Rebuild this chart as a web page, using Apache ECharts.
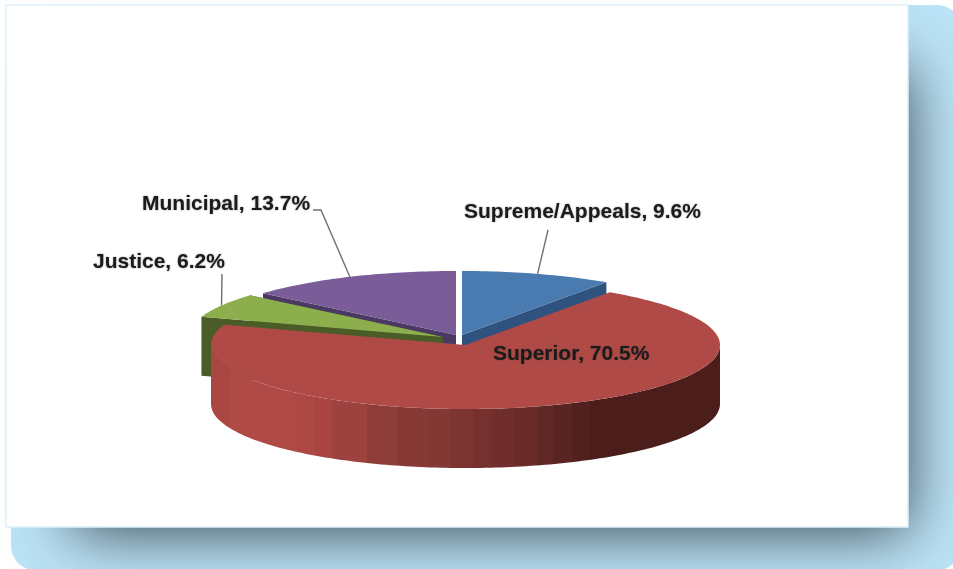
<!DOCTYPE html>
<html>
<head>
<meta charset="utf-8">
<style>html,body{margin:0;padding:0;background:#fff}#c{width:953px;height:569px;filter:blur(0.45px)}</style>
<script src="https://cdn.jsdelivr.net/npm/echarts@6/dist/echarts.min.js"></script>
</head>
<body>
<div id="c"></div>
<script>
// Data, clockwise from 12 o'clock
var categories = ['Supreme/Appeals', 'Superior', 'Justice', 'Municipal'];
var shares = [9.6, 70.5, 6.2, 13.7];

// Styles
var topColors = ['#4A7BB0', '#B04A46', '#8DAE4C', '#7A5C98'];
var wallColors = ['#2F527E', '#4B1E1C', '#4A5C28', '#4A3A63'];
var wallBandEdges = [211, 230, 297, 315, 332, 367, 397, 428, 450, 473, 492, 515, 537, 553, 572, 590, 720];
var wallBandColors = ['#AB4743', '#AF4A46', '#AD4844', '#A84541', '#9D423E', '#8F3D39', '#863935', '#823833', '#7C3531', '#76312E', '#6F2D2B', '#682B28', '#5F2825', '#582522', '#52211F', '#4B1E1C'];

// Layout of each exploded slice on the page
var sliceLayout = [
  {cx: 462, cy: 335, order: 1},
  {cx: 465.5, cy: 345, order: 4},
  {cx: 443, cy: 337, order: 3},
  {cx: 456, cy: 335, order: 2}
];
var radiusX = 254.5, radiusY = 64, depth = 59;
var labelLayout = [
  {x: 464, y: 212, line: [[548, 230]]},
  {x: 493, y: 354, line: null},
  {x: 93, y: 262, line: [[222, 274]]},
  {x: 142, y: 204, line: [[321, 210], [313, 210]]}
];

var startAngles = [];
shares.reduce(function (sum, v, i) { startAngles[i] = sum; return sum + v; }, 0);

function pointAt(l, t) {
  return [l.cx + radiusX * Math.sin(t), l.cy - radiusY * Math.cos(t)];
}
function arc(l, a0, a1) {
  var pts = [], n = Math.max(2, Math.ceil(Math.abs(a1 - a0) / 0.02));
  for (var k = 0; k <= n; k++) pts.push(pointAt(l, a0 + (a1 - a0) * k / n));
  return pts;
}
function down(p) { return [p[0], p[1] + depth]; }

function bandStops() {
  var stops = [], span = wallBandEdges[wallBandEdges.length - 1] - wallBandEdges[0];
  wallBandColors.forEach(function (c, i) {
    stops.push({offset: (wallBandEdges[i] - wallBandEdges[0]) / span, color: c});
    stops.push({offset: (wallBandEdges[i + 1] - wallBandEdges[0]) / span, color: c});
  });
  return stops;
}

function renderSlice(params, api) {
  var i = params.dataIndex;
  var value = api.value(0);
  var l = sliceLayout[i];
  var a0 = startAngles[i] / 100 * 2 * Math.PI;
  var a1 = a0 + value / 100 * 2 * Math.PI;
  var apex = [l.cx, l.cy];
  var rim = arc(l, a0, a1);
  var children = [];
  var isSuperior = value > 50;

  if (isSuperior) {
    // outer wall: only the front half of the rim faces the viewer
    var frontRim = arc(l, Math.max(a0, Math.PI / 2), Math.min(a1, Math.PI * 1.5));
    var front = frontRim.concat(frontRim.map(down).reverse());
    children.push({
      type: 'polygon', z2: l.order * 10,
      shape: {points: front},
      style: {fill: {type: 'linear', x: wallBandEdges[0], y: 0, x2: wallBandEdges[wallBandEdges.length - 1], y2: 0, global: true, colorStops: bandStops()}}
    });
  } else {
    // the cut faces that show below the top of the slice
    [rim[0], rim[rim.length - 1]].forEach(function (p) {
      children.push({
        type: 'polygon', z2: l.order * 10,
        shape: {points: [apex, p, down(p), down(apex)]},
        style: {fill: wallColors[i]}
      });
    });
  }
  children.push({
    type: 'polygon', z2: l.order * 10 + 1,
    shape: {points: [apex].concat(rim)},
    style: {fill: topColors[i]}
  });

  var lab = labelLayout[i];
  if (lab.line) {
    var mid = pointAt(l, (a0 + a1) / 2);
    children.push({
      type: 'polyline', z2: 90,
      shape: {points: [mid].concat(lab.line)},
      style: {fill: null, stroke: '#707070', lineWidth: 1.4}
    });
  }
  children.push({
    type: 'text', z2: 100,
    x: lab.x, y: lab.y,
    style: {
      text: categories[i] + ', ' + value.toFixed(1) + '%',
      x: 0, y: 0,
      align: 'left', verticalAlign: 'middle',
      fill: '#1B1B1B',
      font: 'bold 21px "Liberation Sans", Arial, sans-serif',
      textShadowColor: 'rgba(40,40,40,0.5)',
      textShadowBlur: 2
    }
  });
  return {type: 'group', children: children};
}

var chart = echarts.init(document.getElementById('c'), null, {width: 953, height: 569});
chart.setOption({
  animation: false,
  backgroundColor: '#ffffff',
  graphic: [
    {type: 'rect', z: 0, shape: {x: 11, y: 5, width: 950, height: 565, r: 24}, style: {fill: '#BCE3F7'}},
    {type: 'rect', z: 1, shape: {x: 70, y: 62, width: 836, height: 465}, style: {fill: '#37474F', shadowColor: '#37474F', shadowBlur: 58, shadowOffsetX: 2, shadowOffsetY: 5}},
    {type: 'rect', z: 2, shape: {x: 6, y: 5, width: 902, height: 522}, style: {fill: '#FFFFFF', stroke: '#DDF1FB', lineWidth: 1.5}}
  ],
  series: [{
    type: 'custom',
    coordinateSystem: 'none',
    z: 5,
    silent: true,
    renderItem: renderSlice,
    encode: {value: 0},
    data: shares.map(function (v, i) { return {name: categories[i], value: [v]}; })
  }]
});
</script>
</body>
</html>
